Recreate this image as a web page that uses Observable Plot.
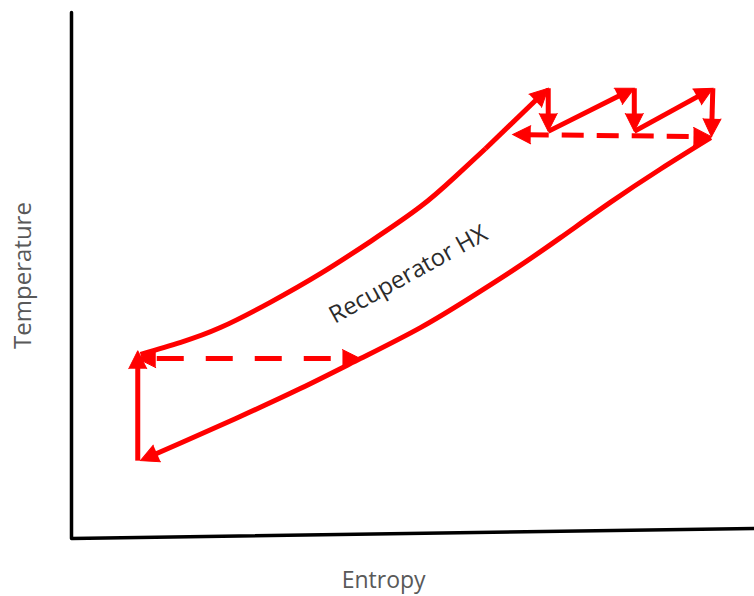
<!DOCTYPE html>
<html>
<head>
<meta charset="utf-8">
<script src="https://cdn.jsdelivr.net/npm/d3@7"></script>
<script src="https://cdn.jsdelivr.net/npm/@observablehq/plot@0.6"></script>
<style>
  html, body { margin: 0; padding: 0; background: #fff; }
  #chart { width: 754px; height: 596px; }
</style>
</head>
<body>
<div id="chart"></div>
<script>
// ---------- data (entropy s, temperature T in arbitrary units) ----------
const axisS = [0, 0, 10];
const axisT = [10, 0, 0.19];

// compression: vertical line up (arrow at top)
const compS = [0.97, 0.97];
const compT = [1.48, 3.57];

// high-pressure side through recuperator (smooth curve)
const upperS = [1.01, 1.60, 2.18, 2.91, 3.65, 4.38, 5.11, 5.62, 6.06];
const upperT = [3.50, 3.73, 4.01, 4.49, 5.04, 5.65, 6.31, 6.88, 7.41];

// reheat / expansion zig-zag (each segment ends with an arrow)
const zigS = [6.06, 6.98, 6.98, 8.24, 8.24, 9.39, 9.37];
const zigT = [7.41, 8.56, 7.74, 8.56, 7.74, 8.56, 7.64];

// low-pressure side back through recuperator (arrow at the end)
const lowerS = [9.36, 8.62, 7.89, 7.16, 6.50, 5.84, 5.11, 4.23, 3.35, 2.47, 1.64, 1.01];
const lowerT = [7.62, 7.02, 6.39, 5.72, 5.13, 4.58, 4.01, 3.42, 2.85, 2.32, 1.84, 1.48];

// recuperator heat-transfer dashed double arrows
const dashLowS = [0.97, 4.23];
const dashLowT = [3.42, 3.42];
const dashHighS = [6.46, 9.37];
const dashHighT = [7.68, 7.64];

// labels
const xLabel = "Entropy";
const yLabel = "Temperature";
const hxLabel = "Recuperator HX";
const hxPos = {s: 4.93, T: 5.02, angle: -29};

// ---------- layout ----------
const W = 754, H = 596;
const ML = 71, MR = 0, MT = 12, MB = 58;
const S_DOMAIN = [0, 10], T_DOMAIN = [0, 10];
const kx = (W - ML - MR) / (S_DOMAIN[1] - S_DOMAIN[0]);
const ky = (H - MT - MB) / (T_DOMAIN[1] - T_DOMAIN[0]);
const RED = "#ff0000";
const HEAD_LEN = 18, HEAD_R = 9, TRIM = 9;

const pts = (S, T) => S.map((s, i) => ({s, T: T[i]}));

// direction of last segment (pixel space) -> trimmed end point + arrowhead
function endInfo(a, b) {
  const dx = (b.s - a.s) * kx, dy = -(b.T - a.T) * ky;
  const len = Math.hypot(dx, dy) || 1;
  const ux = dx / len, uy = dy / len;
  return {
    trimmed: {s: b.s - ux * TRIM / kx, T: b.T + uy * TRIM / ky},
    head: {s: b.s, T: b.T, rotate: Math.atan2(ux, -uy) * 180 / Math.PI}
  };
}

const heads = [];
function arrowPath(P, both = false) {
  const out = P.map(d => ({...d}));
  const e = endInfo(P[P.length - 2], P[P.length - 1]);
  out[out.length - 1] = e.trimmed;
  heads.push(e.head);
  if (both) {
    const s = endInfo(P[1], P[0]);
    out[0] = s.trimmed;
    heads.push(s.head);
  }
  return out;
}

const compLine = arrowPath(pts(compS, compT));
const upperLine = pts(upperS, upperT);
const zigAll = pts(zigS, zigT);
const zigSegs = [];
for (let i = 0; i < zigAll.length - 1; i++) {
  arrowPath([zigAll[i], zigAll[i + 1]]).forEach(d => zigSegs.push({...d, seg: i}));
}
const lowerLine = arrowPath(pts(lowerS, lowerT));
const dashLow = arrowPath(pts(dashLowS, dashLowT), true);
const dashHigh = arrowPath(pts(dashHighS, dashHighT), true);

const redLine = {x: "s", y: "T", stroke: RED, strokeWidth: 5, strokeLinecap: "butt", strokeLinejoin: "round"};

const chart = Plot.plot({
  width: W, height: H,
  marginLeft: ML, marginRight: MR, marginTop: MT, marginBottom: MB,
  x: {domain: S_DOMAIN, axis: null},
  y: {domain: T_DOMAIN, axis: null},
  style: {background: "#fff", overflow: "visible"},
  marks: [
    Plot.line(pts(axisS, axisT), {x: "s", y: "T", stroke: "#000", strokeWidth: 3.5, strokeLinejoin: "round", strokeLinecap: "round"}),
    Plot.line(compLine, redLine),
    Plot.line(upperLine, {...redLine, curve: "natural"}),
    Plot.line(zigSegs, {...redLine, z: "seg"}),
    Plot.line(lowerLine, {...redLine, curve: "natural"}),
    Plot.line(dashLow, {...redLine, strokeDasharray: "27,22", strokeDashoffset: 39}),
    Plot.line(dashHigh, {...redLine, strokeDasharray: "22,13", strokeDashoffset: 30}),
    Plot.vector(heads, {x: "s", y: "T", rotate: "rotate", length: HEAD_LEN, r: HEAD_R, shape: "spike", anchor: "end", fill: RED, stroke: RED, strokeWidth: 1, strokeLinejoin: "miter"}),
    Plot.text([hxLabel], {x: hxPos.s, y: hxPos.T, text: d => d, rotate: hxPos.angle, fontSize: 24, fontFamily: "Open Sans", fill: "#2b2b2b"}),
    Plot.text([xLabel], {x: 4.57, frameAnchor: "bottom", dy: 42, lineAnchor: "middle", textAnchor: "middle", text: d => d, fontSize: 23, fontFamily: "Open Sans", fill: "#595959"}),
    Plot.text([yLabel], {y: 5.0, frameAnchor: "left", dx: -48, rotate: -90, lineAnchor: "middle", textAnchor: "middle", text: d => d, fontSize: 24, fontFamily: "Open Sans", fill: "#595959"})
  ]
});
document.getElementById("chart").appendChild(chart);
</script>
</body>
</html>
